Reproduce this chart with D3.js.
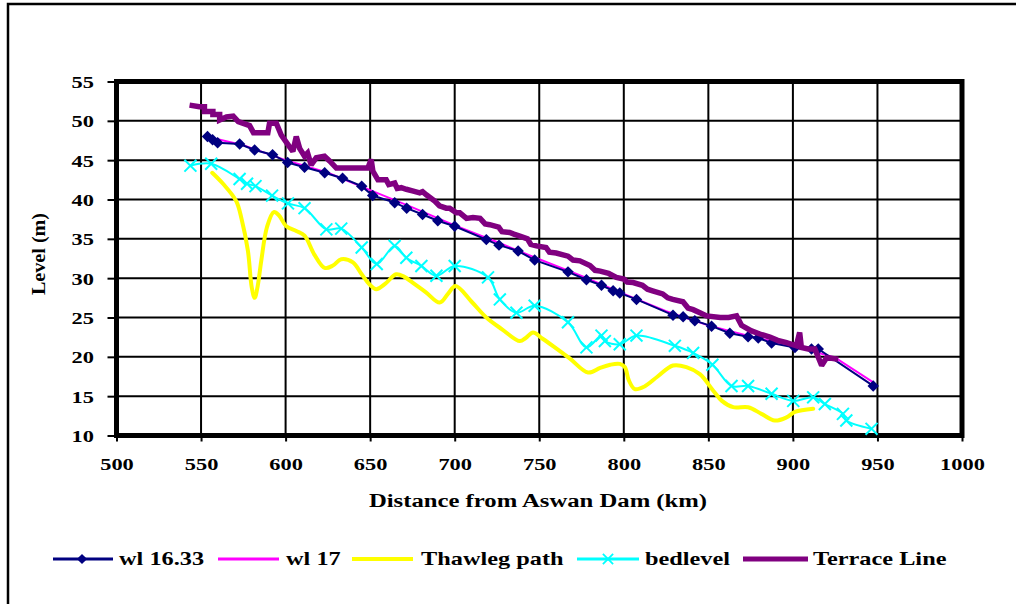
<!DOCTYPE html>
<html>
<head>
<meta charset="utf-8">
<script src="https://cdn.jsdelivr.net/npm/d3@7"></script>
<style>
  body { margin: 0; background: #fff; }
  svg { display: block; }
  text { font-family: "Liberation Serif", "Times New Roman", serif; font-weight: bold; fill: #000; }
</style>
</head>
<body>
<svg id="chart"></svg>
<script>
const width = 1016;
const height = 604;

// axis ticks
const xTicks = [500, 550, 600, 650, 700, 750, 800, 850, 900, 950, 1000];
const yTicks = [10, 15, 20, 25, 30, 35, 40, 45, 50, 55];

// wl 16.33 (km, level)
const wl1633Km = [553.8, 556.8, 559.8, 572.8, 581.7, 592.3, 601.2, 611.2, 623.1, 633.7, 645, 651.5, 664.5, 671.6, 681, 690, 700,
  718.7, 726.2, 737.5, 747.3, 767, 777.9, 786.8, 793.7, 797.6, 807.5, 829.1, 835.1, 842, 851.9, 862.7, 873.5, 879.5, 887.4,
  901.2, 911, 915, 947.5];
const wl1633Lv = [48.0, 47.6, 47.2, 47.05, 46.3, 45.7, 44.7, 44.1, 43.4, 42.7, 41.7, 40.5, 39.6, 38.9, 38.1, 37.3, 36.6,
  34.9, 34.2, 33.45, 32.3, 30.8, 29.8, 29.1, 28.4, 28.1, 27.3, 25.3, 25.1, 24.6, 23.9, 23.0, 22.55, 22.4, 21.75,
  21.2, 21.0, 21.0, 16.3];

// wl 17
const wl17Km = [553, 575, 600, 625, 650, 675, 700, 725, 750, 775, 800, 825, 850, 875, 900, 925, 948];
const wl17Lv = [48.0, 46.9, 45.0, 43.4, 41.2, 39.0, 36.7, 34.6, 32.4, 30.3, 28.0, 25.8, 24.0, 22.6, 21.4, 19.9, 16.7];

// Thawleg path
const thalKm = [556.6, 563, 570.8, 574, 577.7, 580, 581.7, 583.5, 585.6, 589, 593, 596, 600.4, 606.3, 611.2, 617, 623.1, 628,
  632.9, 639.8, 645, 649.7, 653.6, 659, 665.4, 670, 675.3, 683, 691.1, 696, 700.5, 710, 718.7, 728, 738.5, 742, 746.3,
  752, 759.2, 768, 778.9, 786, 792, 797.6, 800.6, 803, 806.5, 812, 820, 829.1, 837, 845, 852.9, 858, 864.7, 873.5,
  881.4, 889.3, 896.2, 901.2, 912];
const thalLv = [43.4, 42.0, 39.8, 37.5, 33.5, 28.8, 27.5, 29.0, 32.2, 36.5, 38.4, 38.0, 36.6, 36.0, 35.4, 33.0, 31.3, 31.6,
  32.4, 32.0, 30.5, 29.2, 28.6, 29.3, 30.5, 30.2, 29.4, 28.2, 26.9, 28.0, 29.0, 27.0, 25.0, 23.5, 22.0, 22.4, 23.1,
  22.3, 21.2, 19.8, 18.0, 18.6, 19.0, 19.1, 18.7, 17.0, 15.9, 16.2, 17.5, 18.9, 18.7, 17.8, 15.7, 14.4, 13.6, 13.6,
  12.75, 11.9, 12.3, 13.0, 13.4];

// bedlevel
const bedKm = [543.7, 556, 572.8, 577.2, 582.2, 592, 601.4, 611.2, 624.1, 632.9, 645, 653.9, 664.5, 671.4, 680.3, 689.2, 700,
  719.7, 726.7, 736.5, 747.3, 767, 777.9, 786.8, 788.8, 797.6, 807.5, 830.2, 841, 852.4, 863.7, 873.5, 887.4, 900.2,
  912, 918.9, 929.6, 931.6, 946.5];
const bedLv = [44.3, 44.55, 42.6, 42.0, 41.7, 40.5, 39.5, 38.9, 36.2, 36.3, 33.9, 31.8, 34.1, 32.6, 31.55, 30.3, 31.55,
  30.1, 27.3, 25.6, 26.5, 24.4, 21.2, 22.7, 22.0, 21.6, 22.7, 21.4, 20.5, 19.0, 16.3, 16.3, 15.3, 14.4,
  14.85, 14.0, 12.75, 11.9, 10.85];

// Terrace Line
const terrKm = [543.2, 549, 552, 552, 557, 557, 561, 561, 565, 569, 572, 578.7, 581, 589.5, 590.5, 594.5, 597.4, 601.3, 604.3, 606.3, 608.3,
  611.2, 613, 615.1, 618.1, 623, 626, 630, 640, 648.7, 650.6, 651.6, 654.6, 659.5, 661, 664.5, 666, 668.4, 671.4, 675, 679.3, 681, 683.2,
  688.2, 691, 695, 697, 701, 703, 707, 710.8, 715, 718, 720.7, 726, 728, 732.5, 735, 738.5, 743, 745, 748.3, 754, 756, 760, 767, 770, 774, 780, 783, 786, 791,
  795.6, 800, 802, 805.5, 811, 814, 817, 823, 826, 829, 835, 838, 841, 845, 849, 857, 862, 866.7, 869.6, 875.5, 880.5, 886.4, 891, 896.2,
  902, 904, 905, 909, 913, 917, 920, 926.8];
const terrLv = [52.0, 51.8, 51.8, 51.2, 51.2, 50.8, 50.8, 50.1, 50.5, 50.6, 49.9, 49.4, 48.5, 48.5, 49.7, 49.7, 48.2, 47.0, 46.1, 48.0, 46.5,
  45.5, 45.9, 44.4, 45.3, 45.5, 44.9, 44.0, 44.0, 44.0, 45.1, 43.6, 42.5, 42.5, 41.9, 42.1, 41.4, 41.5, 41.3, 41.1, 40.85, 41.0, 40.6,
  39.8, 39.2, 38.9, 38.9, 38.3, 38.3, 37.6, 37.7, 37.6, 36.9, 36.8, 36.5, 35.9, 35.8, 35.6, 35.35, 35.0, 34.3, 34.1, 33.9, 33.3, 33.2, 32.8, 32.3, 32.2, 31.6, 31.0, 30.9, 30.6,
  30.1, 29.9, 29.5, 29.45, 29.1, 28.6, 28.4, 28.0, 27.5, 27.3, 27.0, 26.2, 26.0, 25.6, 25.2, 25.0, 25.0, 25.2, 24.0, 23.3, 22.9, 22.5, 22.1, 21.8,
  21.4, 23.1, 21.2, 21.0, 21.0, 18.9, 19.9, 19.7];

const legendNames = ["wl 16.33", "wl 17", "Thawleg path", "bedlevel", "Terrace Line"];

const zip = (a, b) => a.map((v, i) => [v, b[i]]);

const svg = d3.select("#chart")
    .attr("width", width)
    .attr("height", height);

// outer frame
svg.append("rect")
    .attr("x", 8).attr("y", 4)
    .attr("width", 1100).attr("height", 700)
    .attr("fill", "none").attr("stroke", "#000").attr("stroke-width", 2.5);

const x = d3.scaleLinear().domain([500, 1000]).range([116.5, 962]);
const y = d3.scaleLinear().domain([10, 55]).range([435.5, 81.5]);

// grid
svg.append("g")
    .selectAll("line")
    .data(yTicks.slice(1, -1))
    .join("line")
    .attr("x1", x(500)).attr("x2", x(1000))
    .attr("y1", d => y(d)).attr("y2", d => y(d))
    .attr("stroke", "#000").attr("stroke-width", 2);

svg.append("g")
    .selectAll("line")
    .data(xTicks.slice(1, -1))
    .join("line")
    .attr("y1", y(10)).attr("y2", y(55))
    .attr("x1", d => x(d)).attr("x2", d => x(d))
    .attr("stroke", "#000").attr("stroke-width", 2);

// axes
const yAxis = svg.append("g")
    .attr("transform", `translate(${x(500)},0)`)
    .call(d3.axisLeft(y).tickValues(yTicks).tickSize(9).tickFormat(d3.format("d")));
yAxis.select(".domain").remove();
yAxis.selectAll(".tick line").attr("stroke", "#000").attr("stroke-width", 2);
yAxis.selectAll(".tick text")
    .attr("x", -17.6)
    .attr("dy", "0.34em")
    .attr("transform", "scale(1.28,1)")
    .attr("fill", "#000")
    .style("font-size", "17.5px")
    .style("font-family", "Liberation Serif, serif")
    .style("font-weight", "bold");

const xAxis = svg.append("g")
    .attr("transform", `translate(0,${y(10)})`)
    .call(d3.axisBottom(x).tickValues(xTicks).tickSize(6).tickFormat(d3.format("d")));
xAxis.select(".domain").remove();
xAxis.selectAll(".tick line").attr("stroke", "#000").attr("stroke-width", 2);
xAxis.selectAll(".tick text")
    .attr("y", 34.5)
    .attr("dy", 0)
    .attr("transform", "scale(1.28,1)")
    .attr("fill", "#000")
    .style("font-size", "17.5px")
    .style("font-family", "Liberation Serif, serif")
    .style("font-weight", "bold");

// plot border
svg.append("rect")
    .attr("x", x(500)).attr("y", y(55))
    .attr("width", x(1000) - x(500)).attr("height", y(10) - y(55))
    .attr("fill", "none").attr("stroke", "#000").attr("stroke-width", 5);

const straight = d3.line().x(d => x(d[0])).y(d => y(d[1]));
const smooth = d3.line().x(d => x(d[0])).y(d => y(d[1])).curve(d3.curveCatmullRom.alpha(0.5));

// wl 17
svg.append("path")
    .attr("d", straight(zip(wl17Km, wl17Lv)))
    .attr("fill", "none").attr("stroke", "#ff00ff").attr("stroke-width", 2);

// wl 16.33
const wlData = zip(wl1633Km, wl1633Lv);
svg.append("path")
    .attr("d", straight(wlData))
    .attr("fill", "none").attr("stroke", "#000080").attr("stroke-width", 2);
svg.append("g")
    .selectAll("path")
    .data(wlData)
    .join("path")
    .attr("d", d3.symbol(d3.symbolSquare, 66))
    .attr("transform", d => `translate(${x(d[0])},${y(d[1])}) rotate(45)`)
    .attr("fill", "#000080");

// Thawleg
svg.append("path")
    .attr("d", smooth(zip(thalKm, thalLv)))
    .attr("fill", "none").attr("stroke", "#ffff00").attr("stroke-width", 4)
    .attr("stroke-linejoin", "round").attr("stroke-linecap", "round");

// bedlevel
const timesSym = d3.symbolTimes || d3.symbolX;
const bedData = zip(bedKm, bedLv);
svg.append("path")
    .attr("d", smooth(bedData))
    .attr("fill", "none").attr("stroke", "#00ffff").attr("stroke-width", 2);
svg.append("g")
    .selectAll("path")
    .data(bedData)
    .join("path")
    .attr("d", d3.symbol(timesSym, 95))
    .attr("transform", d => `translate(${x(d[0])},${y(d[1])})`)
    .attr("fill", "none").attr("stroke", "#00ffff").attr("stroke-width", 2);

// Terrace Line
svg.append("path")
    .attr("d", straight(zip(terrKm, terrLv)))
    .attr("fill", "none").attr("stroke", "#800080").attr("stroke-width", 5.5)
    .attr("stroke-linejoin", "miter").attr("stroke-miterlimit", 2);

// axis titles
svg.append("text")
    .attr("transform", "translate(538,507) scale(1.3,1)")
    .attr("text-anchor", "middle")
    .style("font-size", "19px")
    .text("Distance from Aswan Dam (km)");

svg.append("text")
    .attr("transform", "translate(45,254) rotate(-90) scale(1.06,1)")
    .attr("text-anchor", "middle")
    .style("font-size", "19px")
    .text("Level (m)");

// legend
const legY = 559;
const legItems = [
  { x1: 53, x2: 113, tx: 119, color: "#000080", w: 3, mark: "diamond", mx: 82 },
  { x1: 218, x2: 279, tx: 286, color: "#ff00ff", w: 3 },
  { x1: 352, x2: 413, tx: 421, color: "#ffff00", w: 4 },
  { x1: 577, x2: 639, tx: 645, color: "#00ffff", w: 3, mark: "times", mx: 608 },
  { x1: 743, x2: 808, tx: 813, color: "#800080", w: 5 }
];
const leg = svg.append("g");
legItems.forEach((it, i) => {
  leg.append("line")
      .attr("x1", it.x1).attr("x2", it.x2)
      .attr("y1", legY).attr("y2", legY)
      .attr("stroke", it.color).attr("stroke-width", it.w);
  if (it.mark === "diamond") {
    leg.append("path")
        .attr("d", d3.symbol(d3.symbolSquare, 52))
        .attr("transform", `translate(${it.mx},${legY}) rotate(45)`)
        .attr("fill", it.color);
  } else if (it.mark === "times") {
    leg.append("path")
        .attr("d", d3.symbol(timesSym, 70))
        .attr("transform", `translate(${it.mx},${legY})`)
        .attr("fill", "none").attr("stroke", it.color).attr("stroke-width", 1.8);
  }
  leg.append("text")
      .attr("transform", `translate(${it.tx},${legY + 6}) scale(1.28,1)`)
      .style("font-size", "19px")
      .text(legendNames[i]);
});
</script>
</body>
</html>
